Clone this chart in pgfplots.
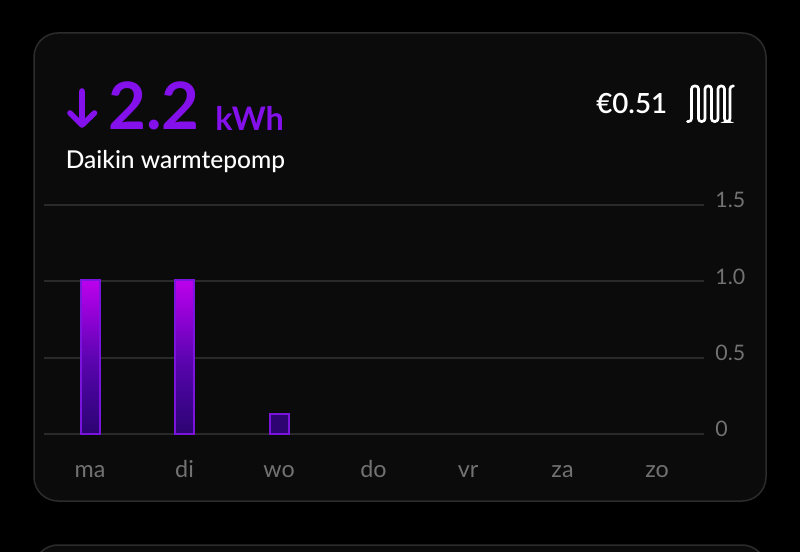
\documentclass[border=0pt]{standalone}
\usepackage{fontspec}
\setmainfont{Lato}
\newfontfamily\latomed{Lato Medium}
\newfontfamily\latosemi{Lato Semibold}
\usepackage{pgfplots}
\pgfplotsset{compat=1.18}
\definecolor{cardbg}{HTML}{0B0B0B}
\definecolor{cardline}{HTML}{2C2C2C}
\definecolor{gridc}{HTML}{2A2A2A}
\definecolor{ticktxt}{HTML}{727272}
\definecolor{purp}{HTML}{8410EC}
\definecolor{barline}{HTML}{7A14DC}
\definecolor{bartop}{HTML}{BC00EC}
\definecolor{barup}{HTML}{8C02D2}
\definecolor{barmid}{HTML}{5E04B2}
\definecolor{barlow}{HTML}{420494}
\definecolor{barbot}{HTML}{2C0472}
\definecolor{barshort}{HTML}{2E0472}
\pgfdeclareverticalshading{barshade}{100bp}{color(0bp)=(barbot); color(25bp)=(barbot); color(38bp)=(barlow); color(50bp)=(barmid); color(62bp)=(barup); color(75bp)=(bartop); color(100bp)=(bartop)}
\pgfplotstableread{
x y
0 1.01
1 1.01
}\tall
\pgfplotstableread{
x y
2 0.13
}\short
\begin{document}
\begin{tikzpicture}[x=0.75pt,y=-0.75pt]
\useasboundingbox (0,0) rectangle (800,552);
\begin{scope}
\clip (0,0) rectangle (800,552);
\fill[black] (0,0) rectangle (800,552);
\draw[fill=cardbg,draw=cardline,line width=1.5pt*0.75,rounded corners=18pt] (34,33) rectangle (766,501);
\draw[fill=cardbg,draw=cardline,line width=1.5pt*0.75,rounded corners=18pt] (34,545) rectangle (766,900);
\end{scope}
\begin{axis}[
  at={(33pt,-325.5pt)},anchor=south west,scale only axis,
  width=495pt,height=171.75pt,
  xmin=-0.487,xmax=6.497,ymin=0,ymax=1.5,
  clip=false,
  axis x line*=bottom,axis y line*=right,
  axis line style={draw=none},
  major tick length=0pt,
  ymajorgrids,
  grid style={gridc,line width=1.5pt},
  ytick={0,0.5,1,1.5},yticklabels={0,0.5,1.0,1.5},
  xtick={0,1,2,3,4,5,6},xticklabels={ma,di,wo,do,vr,za,zo},
  yticklabel style={font=\fontsize{16}{18}\selectfont,text=ticktxt,anchor=base west,xshift=5pt,yshift=-2.2pt},
  xticklabel style={font=\fontsize{17.5}{20}\selectfont,text=ticktxt,anchor=base,yshift=-32.5pt},
  ybar,bar width=14.25pt,
]
\addplot[draw=barline,line width=1.5pt,shading=barshade,bar shift=0pt] table[x=x,y=y]{\tall};
\addplot[draw=barline,line width=1.5pt,fill=barshort,bar shift=0pt] table[x=x,y=y]{\short};
\end{axis}
\draw[purp,line width=4.2pt,line cap=round,line join=round] (82,91) -- (82,125) (70,113) -- (82,125) -- (94.5,113);
\node[anchor=base west,inner sep=0pt,text=purp] at (108,130) {\fontsize{49}{50}\selectfont\bfseries 2.2};
\node[anchor=base west,inner sep=0pt,text=purp] at (215,131) {\fontsize{24.3}{26}\selectfont\bfseries kWh};
\node[anchor=base west,inner sep=0pt,text=white] at (65.5,169) {\fontsize{18.4}{20}\selectfont\latomed Daikin warmtepomp};
\node[anchor=base west,inner sep=0pt,text=white] at (596,114) {\fontsize{20.8}{22}\selectfont\latosemi €0.51};
\draw[white,line width=2pt,rounded corners=2.2pt,line cap=round]
 (687.5,121.5)--(691.5,121.5)--(691.5,86)--(698.5,86)--(698.5,121.5)--(705,121.5)--(705,86)--(711.5,86)--(711.5,121.5)--(718,121.5)--(718,86)--(724.5,86)--(724.5,121.5)--(730,121.5)--(730,86)--(733.5,86);
\end{tikzpicture}
\end{document}
